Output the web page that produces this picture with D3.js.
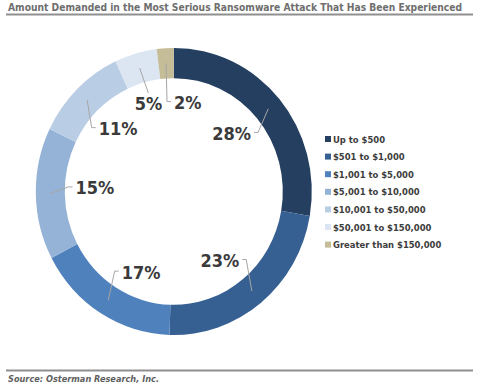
<!DOCTYPE html>
<html>
<head>
<meta charset="utf-8">
<script src="https://cdn.jsdelivr.net/npm/d3@7"></script>
<style>
  body { margin: 0; background: #fff; }
  text { font-family: "DejaVu Sans Condensed", "DejaVu Sans", sans-serif; }
</style>
</head>
<body>
<div id="chart"></div>
<script>
// Data
const categories = [
  "Up to $500",
  "$501 to $1,000",
  "$1,001 to $5,000",
  "$5,001 to $10,000",
  "$10,001 to $50,000",
  "$50,001 to $150,000",
  "Greater than $150,000",
];
const values = [28, 23, 17, 15, 11, 5, 2];
const colors = ["#243f60", "#376092", "#4f81bd", "#95b3d7", "#b9cde5", "#dce6f2", "#c4bd97"];

// label placement tweaks (degrees off the slice middle, distance from centre)
const labelTweak = [
  { da: -5, r: 82 },
  { da: 5.5, r: 83 },
  { da: -10, r: 87 },
  { da: 3.5, r: 79 },
  { da: 3, r: 84 },
  { da: 0, r: 92 },
  { da: 12.5, r: 90 },
];

// Dimensions
const dims = {
  width: 497,
  height: 389,
  cx: 173.8,
  cy: 191.5,
  inner: 109,
  outer: 138,
  squash: 1.04,
};

const svg = d3
  .select("#chart")
  .append("svg")
  .attr("width", dims.width)
  .attr("height", dims.height);

// Title
svg
  .append("text")
  .attr("x", 8)
  .attr("y", 10.5)
  .attr("textLength", 454)
  .attr("lengthAdjust", "spacingAndGlyphs")
  .style("font-size", "11px")
  .style("font-weight", "bold")
  .attr("fill", "#6e6e6e")
  .text("Amount Demanded in the Most Serious Ransomware Attack That Has Been Experienced");

svg.append("line")
  .attr("x1", 6).attr("x2", 473).attr("y1", 14.5).attr("y2", 14.5)
  .attr("stroke", "#8f8f8f").attr("stroke-width", 2);

// Footer
svg.append("line")
  .attr("x1", 6).attr("x2", 473).attr("y1", 370.5).attr("y2", 370.5)
  .attr("stroke", "#8f8f8f").attr("stroke-width", 2);

svg
  .append("text")
  .attr("x", 8)
  .attr("y", 382)
  .attr("textLength", 151)
  .attr("lengthAdjust", "spacingAndGlyphs")
  .style("font-size", "9.5px")
  .style("font-weight", "bold")
  .style("font-style", "italic")
  .attr("fill", "#5f5f5f")
  .text("Source: Osterman Research, Inc.");

// Donut
const pie = d3.pie().sort(null).value((d) => d)(values);

const arc = d3.arc().innerRadius(dims.inner).outerRadius(dims.outer);
const midArc = d3
  .arc()
  .innerRadius((dims.inner + dims.outer) / 2)
  .outerRadius((dims.inner + dims.outer) / 2);

svg
  .append("g")
  .attr("transform", `translate(${dims.cx},${dims.cy}) scale(1,${dims.squash})`)
  .selectAll("path")
  .data(pie)
  .join("path")
  .attr("d", arc)
  .attr("fill", (d, i) => colors[i]);

// Labels + leader lines
const leaders = svg.append("g");
const labels = svg.append("g");

pie.forEach((d, i) => {
  const mid = (d.startAngle + d.endAngle) / 2 + (labelTweak[i].da * Math.PI) / 180;
  const lx = dims.cx + labelTweak[i].r * Math.sin(mid);
  const ly = dims.cy - labelTweak[i].r * Math.cos(mid);

  const t = labels
    .append("text")
    .attr("x", lx)
    .attr("y", ly + 6.5)
    .attr("text-anchor", "middle")
    .style("font-size", "18px")
    .style("font-weight", "bold")
    .attr("fill", "#3a3a3a")
    .text(d.data + "%");

  const half = t.node().getComputedTextLength() / 2;
  const c = midArc.centroid(d);
  const px = dims.cx + c[0];
  const py = dims.cy + c[1] * dims.squash;

  let pts;
  if (Math.abs(px - lx) < half) {
    pts = [[px, py], [lx, py < ly ? ly - 10 : ly + 10]];
  } else {
    const side = px < lx ? -1 : 1;
    const ax = lx + side * (half + 3);
    pts = [[px, py], [ax + side * 4, ly - 1], [ax, ly - 1]];
  }

  leaders
    .append("path")
    .attr("d", d3.line()(pts))
    .attr("fill", "none")
    .attr("stroke", "#a6a6a6")
    .attr("stroke-width", 1);
});

// Legend
const legend = svg
  .append("g")
  .selectAll("g")
  .data(categories)
  .join("g")
  .attr("transform", (d, i) => `translate(325,${139 + i * 17.6})`);

legend
  .append("rect")
  .attr("x", 0)
  .attr("y", -3)
  .attr("width", 6)
  .attr("height", 6)
  .attr("fill", (d, i) => colors[i]);

legend
  .append("text")
  .attr("x", 8)
  .attr("y", 3.5)
  .style("font-size", "9.4px")
  .style("font-weight", "bold")
  .attr("fill", "#3d3d3d")
  .text((d) => d);
</script>
</body>
</html>
